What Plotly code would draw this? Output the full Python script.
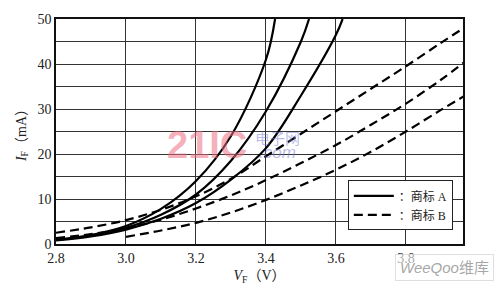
import plotly.graph_objects as go

# ---- data ----
v_a1 = [2.80, 2.90, 3.00, 3.10, 3.20, 3.30, 3.40, 3.426]
i_a1 = [0.9, 2.0, 4.0, 7.8, 14.0, 24.0, 41.0, 50.0]

v_a2 = [2.80, 2.90, 3.00, 3.10, 3.20, 3.30, 3.40, 3.50, 3.523]
i_a2 = [0.9, 1.9, 3.6, 6.5, 11.0, 18.5, 29.5, 45.0, 50.0]

v_a3 = [2.80, 2.90, 3.00, 3.10, 3.20, 3.30, 3.40, 3.50, 3.60, 3.619]
i_a3 = [0.8, 1.7, 3.2, 5.6, 9.1, 14.3, 21.3, 33.0, 46.5, 50.0]

v_b1 = [2.80, 2.90, 3.00, 3.10, 3.20, 3.30, 3.40, 3.50, 3.60, 3.70, 3.80, 3.90, 3.965]
i_b1 = [2.5, 3.7, 5.3, 7.6, 10.6, 14.5, 19.5, 24.5, 29.5, 34.5, 39.5, 44.7, 48.0]

v_b2 = [2.80, 2.90, 3.00, 3.10, 3.20, 3.30, 3.40, 3.50, 3.60, 3.70, 3.80, 3.90, 3.965]
i_b2 = [1.3, 2.2, 3.5, 5.4, 7.9, 10.8, 14.2, 18.0, 22.0, 26.5, 31.2, 36.5, 40.3]

v_b3 = [3.00, 3.10, 3.20, 3.30, 3.40, 3.50, 3.60, 3.70, 3.80, 3.90, 3.965]
i_b3 = [1.6, 3.0, 4.7, 7.0, 9.8, 13.0, 16.5, 20.5, 25.0, 29.8, 32.8]

x_ticks = [2.8, 3.0, 3.2, 3.4, 3.6, 3.8]
x_tick_text = ["2.8", "3.0", "3.2", "3.4", "3.6", "3.8"]
y_ticks = [0, 5, 10, 15, 20, 25, 30, 35, 40, 45, 50]
y_tick_text = ["0", "", "10", "", "20", "", "30", "", "40", "", "50"]

legend_a = "：商标 A"
legend_b = "：商标 B"
x_title = "<i>V</i><sub>F</sub>（V）"
y_title = "<i>I</i><sub>F</sub>（mA）"

SERIF = "Times New Roman, Liberation Serif, Noto Sans CJK SC, serif"

fig = go.Figure()

solid = [(v_a1, i_a1), (v_a2, i_a2), (v_a3, i_a3)]
dashed = [(v_b1, i_b1), (v_b2, i_b2), (v_b3, i_b3)]

for k, (vx, iy) in enumerate(solid):
    fig.add_trace(go.Scatter(
        x=vx, y=iy, mode="lines", line=dict(color="black", width=2.2, shape="spline"),
        name=legend_a, legendgroup="A", showlegend=(k == 0)))
for k, (vx, iy) in enumerate(dashed):
    fig.add_trace(go.Scatter(
        x=vx, y=iy, mode="lines",
        line=dict(color="black", width=2.2, dash="9px,5px", shape="spline"),
        name=legend_b, legendgroup="B", showlegend=(k == 0)))

fig.update_layout(
    width=495, height=293,
    margin=dict(l=56, r=32, t=14, b=42),
    paper_bgcolor="white", plot_bgcolor="white",
    font=dict(family=SERIF, size=14, color="#222"),
    showlegend=True,
    legend=dict(
        x=0.717, y=0.283, xanchor="left", yanchor="top",
        bgcolor="white", bordercolor="#222", borderwidth=1,
        font=dict(family=SERIF, size=12, color="#222"),
        itemwidth=40, tracegroupgap=0,
    ),
    xaxis=dict(
        range=[2.8, 3.963], tickvals=x_ticks, ticktext=x_tick_text,
        showgrid=True, gridcolor="#333", gridwidth=1.2,
        showline=True, linecolor="#111", linewidth=1.5, mirror=True,
        zeroline=False, ticks="",
        title=dict(text=x_title, font=dict(family=SERIF, size=14), standoff=6),
    ),
    yaxis=dict(
        range=[0, 50], tickvals=y_ticks, ticktext=y_tick_text,
        showgrid=True, gridcolor="#333", gridwidth=1.2,
        showline=True, linecolor="#111", linewidth=1.5, mirror=True,
        zeroline=False, ticks="",
        title=dict(text=y_title, font=dict(family=SERIF, size=14), standoff=8),
    ),
)

# watermarks
fig.add_annotation(xref="paper", yref="paper", x=0.372, y=0.44, xanchor="center", yanchor="middle",
                   text="<b>21IC</b>", showarrow=False,
                   font=dict(family="Liberation Sans, sans-serif", size=38, color="rgba(235,110,130,0.55)"))
fig.add_annotation(xref="paper", yref="paper", x=0.545, y=0.475, xanchor="center", yanchor="middle",
                   text="电子网", showarrow=False,
                   font=dict(family="Noto Sans CJK SC", size=15, color="rgba(120,120,210,0.5)"))
fig.add_annotation(xref="paper", yref="paper", x=0.545, y=0.405, xanchor="center", yanchor="middle",
                   text="<i>.com</i>", showarrow=False,
                   font=dict(family="Liberation Sans, sans-serif", size=17, color="rgba(120,120,210,0.5)"))
fig.add_annotation(xref="paper", yref="paper", x=1.075, y=-0.165, xanchor="right", yanchor="bottom",
                   text="<i>WeeQoo</i>维库", showarrow=False, borderpad=4,
                   bgcolor="rgba(255,255,255,0.6)", bordercolor="rgba(215,215,215,0.8)", borderwidth=1,
                   font=dict(family="Liberation Sans, Noto Sans CJK SC", size=15, color="rgba(150,150,150,0.85)"))

fig.write_html("out.html")
